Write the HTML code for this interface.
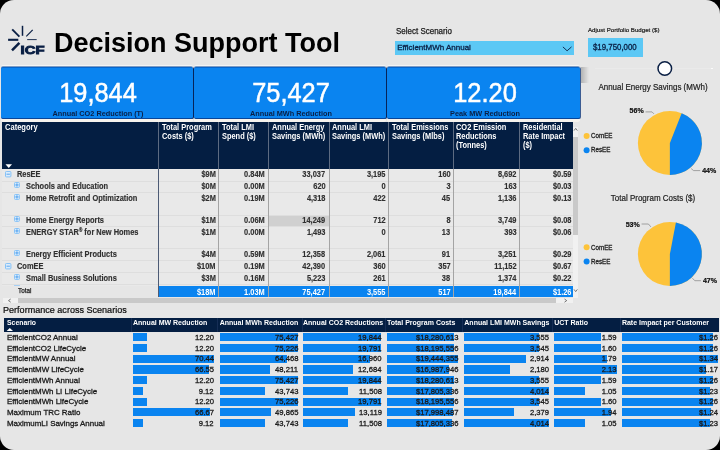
<!DOCTYPE html>
<html><head><meta charset="utf-8"><title>Decision Support Tool</title>
<style>
html,body{margin:0;padding:0;background:#000;}
body{width:720px;height:450px;overflow:hidden;position:relative;font-family:"Liberation Sans",sans-serif;}
#page{position:absolute;left:0;top:0;width:720px;height:450px;background:#e6e6e6;border-radius:14px;overflow:hidden;}
.t{position:absolute;white-space:nowrap;}
.r{position:absolute;}
#c{position:absolute;left:0;top:0;width:720px;height:450px;will-change:transform;}
</style></head><body><div id="page"><div id="c">
<svg class="r" style="left:0;top:0" width="60" height="62" viewBox="0 0 60 62">
<g stroke="#0a1f44" fill="none" stroke-linecap="butt">
<line x1="22.5" y1="25.8" x2="22.5" y2="35.8" stroke-width="1.5"/>
<line x1="12.2" y1="29.4" x2="19.4" y2="36.6" stroke-width="1.9"/>
<line x1="32.7" y1="29.8" x2="26.3" y2="36.3" stroke-width="1.2"/>
<line x1="8.1" y1="39.8" x2="18.3" y2="39.8" stroke-width="2.1"/>
<line x1="27.2" y1="39.6" x2="36.7" y2="39.6" stroke-width="0.9"/>
<line x1="12.0" y1="50.3" x2="19.4" y2="42.9" stroke-width="2.5"/>
</g>
<text x="20.6" y="53.5" font-family="Liberation Sans" font-weight="700" font-size="11.8" fill="#0a1f44" stroke="#0a1f44" stroke-width="0.9" textLength="24.0" lengthAdjust="spacingAndGlyphs">ICF</text>
</svg>
<div class="t" style="left:54.00px;top:25px;font-size:27px;line-height:36px;font-weight:700;color:#000;">Decision Support Tool</div>
<div class="t" style="left:396.00px;top:26px;font-size:8.2px;line-height:11px;font-weight:400;color:#1a1a1a;transform:scaleX(0.975);transform-origin:left center;-webkit-text-stroke:0.25px #1a1a1a;">Select Scenario</div>
<div class="r" style="left:394.70px;top:40.80px;width:179.60px;height:14.20px;background:#5cc8f5;"></div>
<div class="t" style="left:397.20px;top:42px;font-size:8px;line-height:11px;font-weight:400;color:#0a1f44;-webkit-text-stroke:0.3px #0a1f44;">EfficientMWh Annual</div>
<svg class="r" style="left:560px;top:44px" width="14" height="10"><polyline points="2.9,2.9 7.1,6.8 11.5,2.9" fill="none" stroke="#0a1f44" stroke-width="0.9"/></svg>
<div class="t" style="left:587.70px;top:26px;font-size:6px;line-height:8px;font-weight:400;color:#1a1a1a;transform:scaleX(1.02);transform-origin:left center;-webkit-text-stroke:0.2px #1a1a1a;">Adjust Portfolio Budget ($)</div>
<div class="r" style="left:588.30px;top:38.30px;width:55.00px;height:18.60px;background:#5cc8f5;"></div>
<div class="t" style="left:592.70px;top:42px;font-size:8.2px;line-height:11px;font-weight:400;color:#0a1f44;transform:scaleX(0.96);transform-origin:left center;-webkit-text-stroke:0.3px #0a1f44;">$19,750,000</div>
<div class="r" style="left:595.00px;top:68.00px;width:116.00px;height:1.00px;background:#eaeaea;"></div>
<div class="r" style="left:711.00px;top:68.00px;width:2.00px;height:1.00px;background:#fafafa;"></div>
<svg class="r" style="left:655px;top:59px" width="20" height="20"><circle cx="9.8" cy="9.5" r="6.8" fill="#fff" stroke="#0a1f44" stroke-width="1.5"/></svg>
<div class="r" style="left:1px;top:67px;width:192.00px;height:52px;background:#0a84f0;border-radius:2px;box-sizing:border-box;border-top:1px solid #0766cc;border-bottom:1px solid #08469a;box-shadow:0 -1px 0 0 #7d9cc4, 0 -2px 0 0 #f4f4f4, 1px 0 0 0 #06245a, 0 1px 0 0 #f6f3ee, 0 2px 0 0 #f6f3ee, 0 3px 0 0 #f6f3ee"></div>
<div class="r" style="left:194px;top:67px;width:192.00px;height:52px;background:#0a84f0;border-radius:2px;box-sizing:border-box;border-top:1px solid #0766cc;border-bottom:1px solid #08469a;box-shadow:0 -1px 0 0 #7d9cc4, 0 -2px 0 0 #f4f4f4, 1px 0 0 0 #06245a, 0 1px 0 0 #f6f3ee, 0 2px 0 0 #f6f3ee, 0 3px 0 0 #f6f3ee"></div>
<div class="r" style="left:387px;top:67px;width:193.00px;height:52px;background:#0a84f0;border-radius:2px;box-sizing:border-box;border-top:1px solid #0766cc;border-bottom:1px solid #08469a;box-shadow:0 -1px 0 0 #7d9cc4, 0 -2px 0 0 #f4f4f4, 1px 0 0 0 #3b5c92, 0 1px 0 0 #f6f3ee, 0 2px 0 0 #f6f3ee, 0 3px 0 0 #f6f3ee"></div>
<div class="t" style="left:-102.00px;width:400px;text-align:center;top:75px;font-size:27px;line-height:36px;font-weight:400;color:#fff;transform:scaleX(0.94);transform-origin:center center;-webkit-text-stroke:0.5px #fff;">19,844</div>
<div class="t" style="left:-102.00px;width:400px;text-align:center;top:108px;font-size:8px;line-height:11px;font-weight:700;color:#0a1f44;transform:scaleX(0.914);transform-origin:center center;">Annual CO2 Reduction (T)</div>
<div class="t" style="left:91.00px;width:400px;text-align:center;top:75px;font-size:27px;line-height:36px;font-weight:400;color:#fff;transform:scaleX(0.94);transform-origin:center center;-webkit-text-stroke:0.5px #fff;">75,427</div>
<div class="t" style="left:91.00px;width:400px;text-align:center;top:108px;font-size:8px;line-height:11px;font-weight:700;color:#0a1f44;transform:scaleX(0.914);transform-origin:center center;">Annual MWh Reduction</div>
<div class="t" style="left:284.50px;width:400px;text-align:center;top:75px;font-size:27px;line-height:36px;font-weight:400;color:#fff;transform:scaleX(0.94);transform-origin:center center;-webkit-text-stroke:0.5px #fff;">12.20</div>
<div class="t" style="left:284.50px;width:400px;text-align:center;top:108px;font-size:8px;line-height:11px;font-weight:700;color:#0a1f44;transform:scaleX(0.914);transform-origin:center center;">Peak MW Reduction</div>
<div class="r" style="left:581px;top:67px;width:8px;height:16px;background:linear-gradient(to right,rgba(0,0,0,0.22),rgba(0,0,0,0))"></div>
<div class="r" style="left:2.40px;top:122.00px;width:570.20px;height:46.80px;background:#041e42;"></div>
<div class="t" style="left:4.50px;top:122px;font-size:8.2px;line-height:11px;font-weight:700;color:#fff;transform:scaleX(0.92);transform-origin:left center;">Category</div>
<div class="t" style="left:161.70px;top:122px;font-size:8.2px;line-height:11px;font-weight:700;color:#fff;transform:scaleX(0.907);transform-origin:left center;">Total Program</div>
<div class="t" style="left:161.70px;top:131px;font-size:8.2px;line-height:11px;font-weight:700;color:#fff;transform:scaleX(0.907);transform-origin:left center;">Costs ($)</div>
<div class="t" style="left:221.70px;top:122px;font-size:8.2px;line-height:11px;font-weight:700;color:#fff;transform:scaleX(0.907);transform-origin:left center;">Total LMI</div>
<div class="t" style="left:221.70px;top:131px;font-size:8.2px;line-height:11px;font-weight:700;color:#fff;transform:scaleX(0.907);transform-origin:left center;">Spend ($)</div>
<div class="t" style="left:271.70px;top:122px;font-size:8.2px;line-height:11px;font-weight:700;color:#fff;transform:scaleX(0.907);transform-origin:left center;">Annual Energy</div>
<div class="t" style="left:271.70px;top:131px;font-size:8.2px;line-height:11px;font-weight:700;color:#fff;transform:scaleX(0.907);transform-origin:left center;">Savings (MWh)</div>
<div class="t" style="left:331.70px;top:122px;font-size:8.2px;line-height:11px;font-weight:700;color:#fff;transform:scaleX(0.907);transform-origin:left center;">Annual LMI</div>
<div class="t" style="left:331.70px;top:131px;font-size:8.2px;line-height:11px;font-weight:700;color:#fff;transform:scaleX(0.907);transform-origin:left center;">Savings (MWh)</div>
<div class="t" style="left:392.00px;top:122px;font-size:8.2px;line-height:11px;font-weight:700;color:#fff;transform:scaleX(0.907);transform-origin:left center;">Total Emissions</div>
<div class="t" style="left:392.00px;top:131px;font-size:8.2px;line-height:11px;font-weight:700;color:#fff;transform:scaleX(0.907);transform-origin:left center;">Savings (Mlbs)</div>
<div class="t" style="left:456.45px;top:122px;font-size:8.2px;line-height:11px;font-weight:700;color:#fff;transform:scaleX(0.907);transform-origin:left center;">CO2 Emission</div>
<div class="t" style="left:456.45px;top:131px;font-size:8.2px;line-height:11px;font-weight:700;color:#fff;transform:scaleX(0.907);transform-origin:left center;">Reductions</div>
<div class="t" style="left:456.45px;top:140px;font-size:8.2px;line-height:11px;font-weight:700;color:#fff;transform:scaleX(0.907);transform-origin:left center;">(Tonnes)</div>
<div class="t" style="left:523.45px;top:122px;font-size:8.2px;line-height:11px;font-weight:700;color:#fff;transform:scaleX(0.907);transform-origin:left center;">Residential</div>
<div class="t" style="left:523.45px;top:131px;font-size:8.2px;line-height:11px;font-weight:700;color:#fff;transform:scaleX(0.907);transform-origin:left center;">Rate Impact</div>
<div class="t" style="left:523.45px;top:140px;font-size:8.2px;line-height:11px;font-weight:700;color:#fff;transform:scaleX(0.907);transform-origin:left center;">($)</div>
<svg class="r" style="left:5px;top:163px" width="8" height="6"><polygon points="0.5,1.2 7,1.2 3.75,5" fill="#fff"/></svg>
<div class="r" style="left:2.40px;top:168.80px;width:570.20px;height:117.40px;background:#e9e9e9;"></div>
<div class="r" style="left:269.00px;top:215.00px;width:60.00px;height:11.60px;background:#d0d0d0;"></div>
<div class="r" style="left:2.40px;top:181.00px;width:570.20px;height:1.00px;background:#dedede;"></div>
<svg class="r" style="left:5.2px;top:170.50px" width="7" height="7"><rect x="0.5" y="0.5" width="5.40" height="5.40" rx="0.8" fill="#dcecfb" stroke="#86c2f7" stroke-width="1"/><g fill="none" stroke="#3b97ee" stroke-width="0.8"><line x1="1.50" y1="3.20" x2="4.90" y2="3.20"/></g></svg>
<div class="t" style="left:17.00px;top:169px;font-size:8.2px;line-height:11px;font-weight:700;color:#303030;transform:scaleX(0.907);transform-origin:left center;-webkit-text-stroke:0.15px #303030;">ResEE</div>
<div class="t" style="right:504.50px;top:169px;font-size:8.2px;line-height:11px;font-weight:700;color:#303030;transform:scaleX(0.907);transform-origin:right center;-webkit-text-stroke:0.15px #303030;">$9M</div>
<div class="t" style="right:454.80px;top:169px;font-size:8.2px;line-height:11px;font-weight:700;color:#303030;transform:scaleX(0.907);transform-origin:right center;-webkit-text-stroke:0.15px #303030;">0.84M</div>
<div class="t" style="right:394.60px;top:169px;font-size:8.2px;line-height:11px;font-weight:700;color:#303030;transform:scaleX(0.907);transform-origin:right center;-webkit-text-stroke:0.15px #303030;">33,037</div>
<div class="t" style="right:334.40px;top:169px;font-size:8.2px;line-height:11px;font-weight:700;color:#303030;transform:scaleX(0.907);transform-origin:right center;-webkit-text-stroke:0.15px #303030;">3,195</div>
<div class="t" style="right:269.80px;top:169px;font-size:8.2px;line-height:11px;font-weight:700;color:#303030;transform:scaleX(0.907);transform-origin:right center;-webkit-text-stroke:0.15px #303030;">160</div>
<div class="t" style="right:203.60px;top:169px;font-size:8.2px;line-height:11px;font-weight:700;color:#303030;transform:scaleX(0.907);transform-origin:right center;-webkit-text-stroke:0.15px #303030;">8,692</div>
<div class="t" style="right:148.90px;top:169px;font-size:8.2px;line-height:11px;font-weight:700;color:#303030;transform:scaleX(0.907);transform-origin:right center;-webkit-text-stroke:0.15px #303030;">$0.59</div>
<div class="r" style="left:2.40px;top:192.00px;width:570.20px;height:1.00px;background:#dedede;"></div>
<svg class="r" style="left:14.0px;top:182.30px" width="7" height="7"><rect x="0.5" y="0.5" width="4.90" height="4.90" rx="0.8" fill="#dcecfb" stroke="#86c2f7" stroke-width="1"/><g fill="none" stroke="#3b97ee" stroke-width="0.8"><line x1="1.25" y1="2.95" x2="4.65" y2="2.95"/><line x1="2.95" y1="1.25" x2="2.95" y2="4.65"/></g></svg>
<div class="t" style="left:25.70px;top:181px;font-size:8.2px;line-height:11px;font-weight:700;color:#303030;transform:scaleX(0.907);transform-origin:left center;-webkit-text-stroke:0.15px #303030;">Schools and Education</div>
<div class="t" style="right:504.50px;top:181px;font-size:8.2px;line-height:11px;font-weight:700;color:#303030;transform:scaleX(0.907);transform-origin:right center;-webkit-text-stroke:0.15px #303030;">$0M</div>
<div class="t" style="right:454.80px;top:181px;font-size:8.2px;line-height:11px;font-weight:700;color:#303030;transform:scaleX(0.907);transform-origin:right center;-webkit-text-stroke:0.15px #303030;">0.00M</div>
<div class="t" style="right:394.60px;top:181px;font-size:8.2px;line-height:11px;font-weight:700;color:#303030;transform:scaleX(0.907);transform-origin:right center;-webkit-text-stroke:0.15px #303030;">620</div>
<div class="t" style="right:334.40px;top:181px;font-size:8.2px;line-height:11px;font-weight:700;color:#303030;transform:scaleX(0.907);transform-origin:right center;-webkit-text-stroke:0.15px #303030;">0</div>
<div class="t" style="right:269.80px;top:181px;font-size:8.2px;line-height:11px;font-weight:700;color:#303030;transform:scaleX(0.907);transform-origin:right center;-webkit-text-stroke:0.15px #303030;">3</div>
<div class="t" style="right:203.60px;top:181px;font-size:8.2px;line-height:11px;font-weight:700;color:#303030;transform:scaleX(0.907);transform-origin:right center;-webkit-text-stroke:0.15px #303030;">163</div>
<div class="t" style="right:148.90px;top:181px;font-size:8.2px;line-height:11px;font-weight:700;color:#303030;transform:scaleX(0.907);transform-origin:right center;-webkit-text-stroke:0.15px #303030;">$0.03</div>
<div class="r" style="left:2.40px;top:215.00px;width:570.20px;height:1.00px;background:#dedede;"></div>
<svg class="r" style="left:14.0px;top:194.30px" width="7" height="7"><rect x="0.5" y="0.5" width="4.90" height="4.90" rx="0.8" fill="#dcecfb" stroke="#86c2f7" stroke-width="1"/><g fill="none" stroke="#3b97ee" stroke-width="0.8"><line x1="1.25" y1="2.95" x2="4.65" y2="2.95"/><line x1="2.95" y1="1.25" x2="2.95" y2="4.65"/></g></svg>
<div class="t" style="left:25.70px;top:193px;font-size:8.2px;line-height:11px;font-weight:700;color:#303030;transform:scaleX(0.907);transform-origin:left center;-webkit-text-stroke:0.15px #303030;">Home Retrofit and Optimization</div>
<div class="t" style="right:504.50px;top:193px;font-size:8.2px;line-height:11px;font-weight:700;color:#303030;transform:scaleX(0.907);transform-origin:right center;-webkit-text-stroke:0.15px #303030;">$2M</div>
<div class="t" style="right:454.80px;top:193px;font-size:8.2px;line-height:11px;font-weight:700;color:#303030;transform:scaleX(0.907);transform-origin:right center;-webkit-text-stroke:0.15px #303030;">0.19M</div>
<div class="t" style="right:394.60px;top:193px;font-size:8.2px;line-height:11px;font-weight:700;color:#303030;transform:scaleX(0.907);transform-origin:right center;-webkit-text-stroke:0.15px #303030;">4,318</div>
<div class="t" style="right:334.40px;top:193px;font-size:8.2px;line-height:11px;font-weight:700;color:#303030;transform:scaleX(0.907);transform-origin:right center;-webkit-text-stroke:0.15px #303030;">422</div>
<div class="t" style="right:269.80px;top:193px;font-size:8.2px;line-height:11px;font-weight:700;color:#303030;transform:scaleX(0.907);transform-origin:right center;-webkit-text-stroke:0.15px #303030;">45</div>
<div class="t" style="right:203.60px;top:193px;font-size:8.2px;line-height:11px;font-weight:700;color:#303030;transform:scaleX(0.907);transform-origin:right center;-webkit-text-stroke:0.15px #303030;">1,136</div>
<div class="t" style="right:148.90px;top:193px;font-size:8.2px;line-height:11px;font-weight:700;color:#303030;transform:scaleX(0.907);transform-origin:right center;-webkit-text-stroke:0.15px #303030;">$0.13</div>
<div class="r" style="left:2.40px;top:226.00px;width:570.20px;height:1.00px;background:#dedede;"></div>
<svg class="r" style="left:14.0px;top:216.30px" width="7" height="7"><rect x="0.5" y="0.5" width="4.90" height="4.90" rx="0.8" fill="#dcecfb" stroke="#86c2f7" stroke-width="1"/><g fill="none" stroke="#3b97ee" stroke-width="0.8"><line x1="1.25" y1="2.95" x2="4.65" y2="2.95"/><line x1="2.95" y1="1.25" x2="2.95" y2="4.65"/></g></svg>
<div class="t" style="left:25.70px;top:215px;font-size:8.2px;line-height:11px;font-weight:700;color:#303030;transform:scaleX(0.907);transform-origin:left center;-webkit-text-stroke:0.15px #303030;">Home Energy Reports</div>
<div class="t" style="right:504.50px;top:215px;font-size:8.2px;line-height:11px;font-weight:700;color:#303030;transform:scaleX(0.907);transform-origin:right center;-webkit-text-stroke:0.15px #303030;">$1M</div>
<div class="t" style="right:454.80px;top:215px;font-size:8.2px;line-height:11px;font-weight:700;color:#303030;transform:scaleX(0.907);transform-origin:right center;-webkit-text-stroke:0.15px #303030;">0.06M</div>
<div class="t" style="right:394.60px;top:215px;font-size:8.2px;line-height:11px;font-weight:700;color:#303030;transform:scaleX(0.907);transform-origin:right center;-webkit-text-stroke:0.15px #303030;">14,249</div>
<div class="t" style="right:334.40px;top:215px;font-size:8.2px;line-height:11px;font-weight:700;color:#303030;transform:scaleX(0.907);transform-origin:right center;-webkit-text-stroke:0.15px #303030;">712</div>
<div class="t" style="right:269.80px;top:215px;font-size:8.2px;line-height:11px;font-weight:700;color:#303030;transform:scaleX(0.907);transform-origin:right center;-webkit-text-stroke:0.15px #303030;">8</div>
<div class="t" style="right:203.60px;top:215px;font-size:8.2px;line-height:11px;font-weight:700;color:#303030;transform:scaleX(0.907);transform-origin:right center;-webkit-text-stroke:0.15px #303030;">3,749</div>
<div class="t" style="right:148.90px;top:215px;font-size:8.2px;line-height:11px;font-weight:700;color:#303030;transform:scaleX(0.907);transform-origin:right center;-webkit-text-stroke:0.15px #303030;">$0.08</div>
<div class="r" style="left:2.40px;top:248.00px;width:570.20px;height:1.00px;background:#dedede;"></div>
<svg class="r" style="left:14.0px;top:228.30px" width="7" height="7"><rect x="0.5" y="0.5" width="4.90" height="4.90" rx="0.8" fill="#dcecfb" stroke="#86c2f7" stroke-width="1"/><g fill="none" stroke="#3b97ee" stroke-width="0.8"><line x1="1.25" y1="2.95" x2="4.65" y2="2.95"/><line x1="2.95" y1="1.25" x2="2.95" y2="4.65"/></g></svg>
<div class="t" style="left:25.70px;top:227px;font-size:8.2px;line-height:11px;font-weight:700;color:#303030;transform:scaleX(0.907);transform-origin:left center;-webkit-text-stroke:0.15px #303030;">ENERGY STAR<span style="font-size:5px;vertical-align:2.6px;line-height:0">®</span> for New Homes</div>
<div class="t" style="right:504.50px;top:227px;font-size:8.2px;line-height:11px;font-weight:700;color:#303030;transform:scaleX(0.907);transform-origin:right center;-webkit-text-stroke:0.15px #303030;">$1M</div>
<div class="t" style="right:454.80px;top:227px;font-size:8.2px;line-height:11px;font-weight:700;color:#303030;transform:scaleX(0.907);transform-origin:right center;-webkit-text-stroke:0.15px #303030;">0.00M</div>
<div class="t" style="right:394.60px;top:227px;font-size:8.2px;line-height:11px;font-weight:700;color:#303030;transform:scaleX(0.907);transform-origin:right center;-webkit-text-stroke:0.15px #303030;">1,493</div>
<div class="t" style="right:334.40px;top:227px;font-size:8.2px;line-height:11px;font-weight:700;color:#303030;transform:scaleX(0.907);transform-origin:right center;-webkit-text-stroke:0.15px #303030;">0</div>
<div class="t" style="right:269.80px;top:227px;font-size:8.2px;line-height:11px;font-weight:700;color:#303030;transform:scaleX(0.907);transform-origin:right center;-webkit-text-stroke:0.15px #303030;">13</div>
<div class="t" style="right:203.60px;top:227px;font-size:8.2px;line-height:11px;font-weight:700;color:#303030;transform:scaleX(0.907);transform-origin:right center;-webkit-text-stroke:0.15px #303030;">393</div>
<div class="t" style="right:148.90px;top:227px;font-size:8.2px;line-height:11px;font-weight:700;color:#303030;transform:scaleX(0.907);transform-origin:right center;-webkit-text-stroke:0.15px #303030;">$0.06</div>
<div class="r" style="left:2.40px;top:260.00px;width:570.20px;height:1.00px;background:#dedede;"></div>
<svg class="r" style="left:14.0px;top:250.30px" width="7" height="7"><rect x="0.5" y="0.5" width="4.90" height="4.90" rx="0.8" fill="#dcecfb" stroke="#86c2f7" stroke-width="1"/><g fill="none" stroke="#3b97ee" stroke-width="0.8"><line x1="1.25" y1="2.95" x2="4.65" y2="2.95"/><line x1="2.95" y1="1.25" x2="2.95" y2="4.65"/></g></svg>
<div class="t" style="left:25.70px;top:249px;font-size:8.2px;line-height:11px;font-weight:700;color:#303030;transform:scaleX(0.907);transform-origin:left center;-webkit-text-stroke:0.15px #303030;">Energy Efficient Products</div>
<div class="t" style="right:504.50px;top:249px;font-size:8.2px;line-height:11px;font-weight:700;color:#303030;transform:scaleX(0.907);transform-origin:right center;-webkit-text-stroke:0.15px #303030;">$4M</div>
<div class="t" style="right:454.80px;top:249px;font-size:8.2px;line-height:11px;font-weight:700;color:#303030;transform:scaleX(0.907);transform-origin:right center;-webkit-text-stroke:0.15px #303030;">0.59M</div>
<div class="t" style="right:394.60px;top:249px;font-size:8.2px;line-height:11px;font-weight:700;color:#303030;transform:scaleX(0.907);transform-origin:right center;-webkit-text-stroke:0.15px #303030;">12,358</div>
<div class="t" style="right:334.40px;top:249px;font-size:8.2px;line-height:11px;font-weight:700;color:#303030;transform:scaleX(0.907);transform-origin:right center;-webkit-text-stroke:0.15px #303030;">2,061</div>
<div class="t" style="right:269.80px;top:249px;font-size:8.2px;line-height:11px;font-weight:700;color:#303030;transform:scaleX(0.907);transform-origin:right center;-webkit-text-stroke:0.15px #303030;">91</div>
<div class="t" style="right:203.60px;top:249px;font-size:8.2px;line-height:11px;font-weight:700;color:#303030;transform:scaleX(0.907);transform-origin:right center;-webkit-text-stroke:0.15px #303030;">3,251</div>
<div class="t" style="right:148.90px;top:249px;font-size:8.2px;line-height:11px;font-weight:700;color:#303030;transform:scaleX(0.907);transform-origin:right center;-webkit-text-stroke:0.15px #303030;">$0.29</div>
<div class="r" style="left:2.40px;top:272.00px;width:570.20px;height:1.00px;background:#dedede;"></div>
<svg class="r" style="left:5.2px;top:262.50px" width="7" height="7"><rect x="0.5" y="0.5" width="5.40" height="5.40" rx="0.8" fill="#dcecfb" stroke="#86c2f7" stroke-width="1"/><g fill="none" stroke="#3b97ee" stroke-width="0.8"><line x1="1.50" y1="3.20" x2="4.90" y2="3.20"/></g></svg>
<div class="t" style="left:17.00px;top:261px;font-size:8.2px;line-height:11px;font-weight:700;color:#303030;transform:scaleX(0.907);transform-origin:left center;-webkit-text-stroke:0.15px #303030;">ComEE</div>
<div class="t" style="right:504.50px;top:261px;font-size:8.2px;line-height:11px;font-weight:700;color:#303030;transform:scaleX(0.907);transform-origin:right center;-webkit-text-stroke:0.15px #303030;">$10M</div>
<div class="t" style="right:454.80px;top:261px;font-size:8.2px;line-height:11px;font-weight:700;color:#303030;transform:scaleX(0.907);transform-origin:right center;-webkit-text-stroke:0.15px #303030;">0.19M</div>
<div class="t" style="right:394.60px;top:261px;font-size:8.2px;line-height:11px;font-weight:700;color:#303030;transform:scaleX(0.907);transform-origin:right center;-webkit-text-stroke:0.15px #303030;">42,390</div>
<div class="t" style="right:334.40px;top:261px;font-size:8.2px;line-height:11px;font-weight:700;color:#303030;transform:scaleX(0.907);transform-origin:right center;-webkit-text-stroke:0.15px #303030;">360</div>
<div class="t" style="right:269.80px;top:261px;font-size:8.2px;line-height:11px;font-weight:700;color:#303030;transform:scaleX(0.907);transform-origin:right center;-webkit-text-stroke:0.15px #303030;">357</div>
<div class="t" style="right:203.60px;top:261px;font-size:8.2px;line-height:11px;font-weight:700;color:#303030;transform:scaleX(0.907);transform-origin:right center;-webkit-text-stroke:0.15px #303030;">11,152</div>
<div class="t" style="right:148.90px;top:261px;font-size:8.2px;line-height:11px;font-weight:700;color:#303030;transform:scaleX(0.907);transform-origin:right center;-webkit-text-stroke:0.15px #303030;">$0.67</div>
<div class="r" style="left:2.40px;top:284.00px;width:570.20px;height:1.00px;background:#dedede;"></div>
<svg class="r" style="left:14.0px;top:274.30px" width="7" height="7"><rect x="0.5" y="0.5" width="4.90" height="4.90" rx="0.8" fill="#dcecfb" stroke="#86c2f7" stroke-width="1"/><g fill="none" stroke="#3b97ee" stroke-width="0.8"><line x1="1.25" y1="2.95" x2="4.65" y2="2.95"/><line x1="2.95" y1="1.25" x2="2.95" y2="4.65"/></g></svg>
<div class="t" style="left:25.70px;top:273px;font-size:8.2px;line-height:11px;font-weight:700;color:#303030;transform:scaleX(0.907);transform-origin:left center;-webkit-text-stroke:0.15px #303030;">Small Business Solutions</div>
<div class="t" style="right:504.50px;top:273px;font-size:8.2px;line-height:11px;font-weight:700;color:#303030;transform:scaleX(0.907);transform-origin:right center;-webkit-text-stroke:0.15px #303030;">$3M</div>
<div class="t" style="right:454.80px;top:273px;font-size:8.2px;line-height:11px;font-weight:700;color:#303030;transform:scaleX(0.907);transform-origin:right center;-webkit-text-stroke:0.15px #303030;">0.16M</div>
<div class="t" style="right:394.60px;top:273px;font-size:8.2px;line-height:11px;font-weight:700;color:#303030;transform:scaleX(0.907);transform-origin:right center;-webkit-text-stroke:0.15px #303030;">5,223</div>
<div class="t" style="right:334.40px;top:273px;font-size:8.2px;line-height:11px;font-weight:700;color:#303030;transform:scaleX(0.907);transform-origin:right center;-webkit-text-stroke:0.15px #303030;">261</div>
<div class="t" style="right:269.80px;top:273px;font-size:8.2px;line-height:11px;font-weight:700;color:#303030;transform:scaleX(0.907);transform-origin:right center;-webkit-text-stroke:0.15px #303030;">38</div>
<div class="t" style="right:203.60px;top:273px;font-size:8.2px;line-height:11px;font-weight:700;color:#303030;transform:scaleX(0.907);transform-origin:right center;-webkit-text-stroke:0.15px #303030;">1,374</div>
<div class="t" style="right:148.90px;top:273px;font-size:8.2px;line-height:11px;font-weight:700;color:#303030;transform:scaleX(0.907);transform-origin:right center;-webkit-text-stroke:0.15px #303030;">$0.22</div>
<div class="r" style="left:14.2px;top:285px;width:5.6px;height:1px;background:#a6cff5"></div>
<div class="r" style="left:158.25px;top:286.20px;width:414.35px;height:11.00px;background:#0a84f0;"></div>
<div class="t" style="left:17.60px;top:286px;font-size:6.5px;line-height:9px;font-weight:400;color:#222;transform:scaleX(0.98);transform-origin:left center;-webkit-text-stroke:0.25px #222;">Total</div>
<div class="t" style="right:504.50px;top:287px;font-size:8.2px;line-height:11px;font-weight:700;color:#fff;transform:scaleX(0.907);transform-origin:right center;">$18M</div>
<div class="t" style="right:454.80px;top:287px;font-size:8.2px;line-height:11px;font-weight:700;color:#fff;transform:scaleX(0.907);transform-origin:right center;">1.03M</div>
<div class="t" style="right:394.60px;top:287px;font-size:8.2px;line-height:11px;font-weight:700;color:#fff;transform:scaleX(0.907);transform-origin:right center;">75,427</div>
<div class="t" style="right:334.40px;top:287px;font-size:8.2px;line-height:11px;font-weight:700;color:#fff;transform:scaleX(0.907);transform-origin:right center;">3,555</div>
<div class="t" style="right:269.80px;top:287px;font-size:8.2px;line-height:11px;font-weight:700;color:#fff;transform:scaleX(0.907);transform-origin:right center;">517</div>
<div class="t" style="right:203.60px;top:287px;font-size:8.2px;line-height:11px;font-weight:700;color:#fff;transform:scaleX(0.907);transform-origin:right center;">19,844</div>
<div class="t" style="right:148.90px;top:287px;font-size:8.2px;line-height:11px;font-weight:700;color:#fff;transform:scaleX(0.907);transform-origin:right center;">$1.26</div>
<div class="r" style="left:158.00px;top:122.00px;width:1.00px;height:46.80px;background:#5d6b82;"></div>
<div class="r" style="left:158.00px;top:168.80px;width:1.00px;height:128.40px;background:#4d5b75;"></div>
<div class="r" style="left:218.00px;top:122.00px;width:1.00px;height:46.80px;background:#5d6b82;"></div>
<div class="r" style="left:218.00px;top:168.80px;width:1.00px;height:128.40px;background:#a4a4a4;"></div>
<div class="r" style="left:268.00px;top:122.00px;width:1.00px;height:46.80px;background:#5d6b82;"></div>
<div class="r" style="left:268.00px;top:168.80px;width:1.00px;height:128.40px;background:#a4a4a4;"></div>
<div class="r" style="left:328.80px;top:122.00px;width:1.00px;height:46.80px;background:#5d6b82;"></div>
<div class="r" style="left:328.80px;top:168.80px;width:1.00px;height:128.40px;background:#a4a4a4;"></div>
<div class="r" style="left:388.00px;top:122.00px;width:1.00px;height:46.80px;background:#5d6b82;"></div>
<div class="r" style="left:388.00px;top:168.80px;width:1.00px;height:128.40px;background:#a4a4a4;"></div>
<div class="r" style="left:453.10px;top:122.00px;width:1.00px;height:46.80px;background:#5d6b82;"></div>
<div class="r" style="left:453.10px;top:168.80px;width:1.00px;height:128.40px;background:#a4a4a4;"></div>
<div class="r" style="left:519.10px;top:122.00px;width:1.00px;height:46.80px;background:#5d6b82;"></div>
<div class="r" style="left:519.10px;top:168.80px;width:1.00px;height:128.40px;background:#a4a4a4;"></div>
<div class="r" style="left:572.60px;top:126.50px;width:5.40px;height:171.00px;background:#f1f1f1;"></div>
<div class="r" style="left:572.60px;top:137.00px;width:5.40px;height:98.00px;background:#c9c9c9;"></div>
<svg class="r" style="left:572.6px;top:127.3px" width="6" height="5"><polyline points="1,3.6 2.7,1.4 4.4,3.6" fill="none" stroke="#444" stroke-width="0.7"/></svg>
<svg class="r" style="left:572.6px;top:288px" width="6" height="5"><polyline points="1,1.4 2.7,3.6 4.4,1.4" fill="none" stroke="#444" stroke-width="0.7"/></svg>
<div class="r" style="left:2.50px;top:298.30px;width:570.10px;height:4.50px;background:#f1f1f1;"></div>
<div class="r" style="left:17.50px;top:298.30px;width:538.50px;height:4.50px;background:#c9c9c9;"></div>
<svg class="r" style="left:7px;top:298px" width="6" height="6"><polyline points="3.7,1 1.5,2.6 3.7,4.2" fill="none" stroke="#444" stroke-width="0.7"/></svg>
<svg class="r" style="left:562.5px;top:298px" width="6" height="6"><polyline points="1.5,1 3.7,2.6 1.5,4.2" fill="none" stroke="#444" stroke-width="0.7"/></svg>
<svg class="r" style="left:560px;top:82.7px" width="160" height="120" viewBox="560 82.7 160 120"><circle cx="669.9" cy="142.7" r="32" fill="#fdc33a"/><path d="M669.9,142.7 L681.68,112.95 A32,32 0 0 1 669.9,174.7 Z" fill="#0a84f0"/><polyline points="645.5,111.6 652,111.6 654,113.6" fill="none" stroke="#8e8e8e" stroke-width="0.8"/><polyline points="691.2,168.3 693.6,170.3 700.2,170.3" fill="none" stroke="#8e8e8e" stroke-width="0.8"/><circle cx="586.6" cy="135.6" r="3.0" fill="#fdc33a"/><circle cx="586.6" cy="150.0" r="3.0" fill="#0a84f0"/></svg>
<div class="t" style="left:452.80px;width:400px;text-align:center;top:82px;font-size:8.2px;line-height:11px;font-weight:400;color:#222;transform:scaleX(0.975);transform-origin:center center;-webkit-text-stroke:0.2px #222;">Annual Energy Savings (MWh)</div>
<div class="t" style="left:629.60px;top:106px;font-size:7px;line-height:10px;font-weight:700;color:#111;-webkit-text-stroke:0.2px #111;">56%</div>
<div class="t" style="left:702.20px;top:166px;font-size:7px;line-height:10px;font-weight:700;color:#111;-webkit-text-stroke:0.2px #111;">44%</div>
<div class="t" style="left:591.00px;top:131px;font-size:7px;line-height:10px;font-weight:400;color:#222;transform:scaleX(0.89);transform-origin:left center;-webkit-text-stroke:0.3px #222;">ComEE</div>
<div class="t" style="left:591.00px;top:145px;font-size:7px;line-height:10px;font-weight:400;color:#222;transform:scaleX(0.89);transform-origin:left center;-webkit-text-stroke:0.3px #222;">ResEE</div>
<svg class="r" style="left:560px;top:194.1px" width="160" height="120" viewBox="560 194.1 160 120"><circle cx="669.9" cy="254.1" r="32" fill="#fdc33a"/><path d="M669.9,254.1 L675.90,222.67 A32,32 0 0 1 669.9,286.1 Z" fill="#0a84f0"/><polyline points="641.6,224.1 648.4,224.1 650.9,227" fill="none" stroke="#8e8e8e" stroke-width="0.8"/><polyline points="692.4,278.3 694.8,280.8 700.9,280.8" fill="none" stroke="#8e8e8e" stroke-width="0.8"/><circle cx="586.6" cy="247.3" r="3.0" fill="#fdc33a"/><circle cx="586.6" cy="261.7" r="3.0" fill="#0a84f0"/></svg>
<div class="t" style="left:452.60px;width:400px;text-align:center;top:193px;font-size:8.2px;line-height:11px;font-weight:400;color:#222;transform:scaleX(0.975);transform-origin:center center;-webkit-text-stroke:0.2px #222;">Total Program Costs ($)</div>
<div class="t" style="left:625.70px;top:220px;font-size:7px;line-height:10px;font-weight:700;color:#111;-webkit-text-stroke:0.2px #111;">53%</div>
<div class="t" style="left:702.90px;top:276px;font-size:7px;line-height:10px;font-weight:700;color:#111;-webkit-text-stroke:0.2px #111;">47%</div>
<div class="t" style="left:591.00px;top:243px;font-size:7px;line-height:10px;font-weight:400;color:#222;transform:scaleX(0.89);transform-origin:left center;-webkit-text-stroke:0.3px #222;">ComEE</div>
<div class="t" style="left:591.00px;top:257px;font-size:7px;line-height:10px;font-weight:400;color:#222;transform:scaleX(0.89);transform-origin:left center;-webkit-text-stroke:0.3px #222;">ResEE</div>
<div class="t" style="left:3.20px;top:304px;font-size:9.2px;line-height:12px;font-weight:400;color:#0a0a0a;transform:scaleX(0.985);transform-origin:left center;-webkit-text-stroke:0.2px #0a0a0a;">Performance across Scenarios</div>
<div class="r" style="left:3.50px;top:318.20px;width:715.80px;height:13.50px;background:#041e42;"></div>
<div class="r" style="left:130.50px;top:318.20px;width:1.00px;height:13.50px;background:#152d55;"></div>
<div class="r" style="left:216.50px;top:318.20px;width:1.00px;height:13.50px;background:#152d55;"></div>
<div class="r" style="left:301.50px;top:318.20px;width:1.00px;height:13.50px;background:#152d55;"></div>
<div class="r" style="left:385.00px;top:318.20px;width:1.00px;height:13.50px;background:#152d55;"></div>
<div class="r" style="left:461.50px;top:318.20px;width:1.00px;height:13.50px;background:#152d55;"></div>
<div class="r" style="left:551.50px;top:318.20px;width:1.00px;height:13.50px;background:#152d55;"></div>
<div class="r" style="left:619.50px;top:318.20px;width:1.00px;height:13.50px;background:#152d55;"></div>
<div class="t" style="left:6.60px;top:318px;font-size:7px;line-height:10px;font-weight:700;color:#fff;transform:scaleX(0.98);transform-origin:left center;">Scenario</div>
<svg class="r" style="left:6px;top:327px" width="8" height="5"><polygon points="0.6,3.9 7,3.9 3.8,0.9" fill="#fff"/></svg>
<div class="t" style="left:6.75px;top:332px;font-size:8px;line-height:11px;font-weight:400;color:#1a1a1a;transform:scaleX(0.99);transform-origin:left center;-webkit-text-stroke:0.3px #1a1a1a;">EfficientCO2 Annual</div>
<div class="t" style="left:6.75px;top:343px;font-size:8px;line-height:11px;font-weight:400;color:#1a1a1a;transform:scaleX(0.99);transform-origin:left center;-webkit-text-stroke:0.3px #1a1a1a;">EfficientCO2 LifeCycle</div>
<div class="t" style="left:6.75px;top:353px;font-size:8px;line-height:11px;font-weight:400;color:#1a1a1a;transform:scaleX(0.99);transform-origin:left center;-webkit-text-stroke:0.3px #1a1a1a;">EfficientMW Annual</div>
<div class="t" style="left:6.75px;top:364px;font-size:8px;line-height:11px;font-weight:400;color:#1a1a1a;transform:scaleX(0.99);transform-origin:left center;-webkit-text-stroke:0.3px #1a1a1a;">EfficientMW LifeCycle</div>
<div class="t" style="left:6.75px;top:375px;font-size:8px;line-height:11px;font-weight:400;color:#1a1a1a;transform:scaleX(0.99);transform-origin:left center;-webkit-text-stroke:0.3px #1a1a1a;">EfficientMWh Annual</div>
<div class="t" style="left:6.75px;top:386px;font-size:8px;line-height:11px;font-weight:400;color:#1a1a1a;transform:scaleX(0.99);transform-origin:left center;-webkit-text-stroke:0.3px #1a1a1a;">EfficientMWh LI LifeCycle</div>
<div class="t" style="left:6.75px;top:396px;font-size:8px;line-height:11px;font-weight:400;color:#1a1a1a;transform:scaleX(0.99);transform-origin:left center;-webkit-text-stroke:0.3px #1a1a1a;">EfficientMWh LifeCycle</div>
<div class="t" style="left:6.75px;top:407px;font-size:8px;line-height:11px;font-weight:400;color:#1a1a1a;transform:scaleX(0.99);transform-origin:left center;-webkit-text-stroke:0.3px #1a1a1a;">Maximum TRC Ratio</div>
<div class="t" style="left:6.75px;top:418px;font-size:8px;line-height:11px;font-weight:400;color:#1a1a1a;transform:scaleX(0.99);transform-origin:left center;-webkit-text-stroke:0.3px #1a1a1a;">MaximumLI Savings Annual</div>
<div class="t" style="left:133.00px;top:318px;font-size:7px;line-height:10px;font-weight:700;color:#fff;">Annual MW Reduction</div>
<div class="r" style="left:132.80px;top:333.10px;width:14.05px;height:8.20px;background:#0a84f0;"></div>
<div class="t" style="right:506.10px;top:332px;font-size:8px;line-height:11px;font-weight:400;color:#1a1a1a;transform:scaleX(0.955);transform-origin:right center;-webkit-text-stroke:0.3px #1a1a1a;">12.20</div>
<div class="r" style="left:132.80px;top:343.84px;width:14.05px;height:8.20px;background:#0a84f0;"></div>
<div class="t" style="right:506.10px;top:343px;font-size:8px;line-height:11px;font-weight:400;color:#1a1a1a;transform:scaleX(0.955);transform-origin:right center;-webkit-text-stroke:0.3px #1a1a1a;">12.20</div>
<div class="r" style="left:132.80px;top:354.58px;width:81.10px;height:8.20px;background:#0a84f0;"></div>
<div class="t" style="right:506.10px;top:353px;font-size:8px;line-height:11px;font-weight:400;color:#1a1a1a;transform:scaleX(0.955);transform-origin:right center;-webkit-text-stroke:0.3px #1a1a1a;">70.44</div>
<div class="r" style="left:132.80px;top:365.32px;width:76.62px;height:8.20px;background:#0a84f0;"></div>
<div class="t" style="right:506.10px;top:364px;font-size:8px;line-height:11px;font-weight:400;color:#1a1a1a;transform:scaleX(0.955);transform-origin:right center;-webkit-text-stroke:0.3px #1a1a1a;">66.55</div>
<div class="r" style="left:132.80px;top:376.06px;width:14.05px;height:8.20px;background:#0a84f0;"></div>
<div class="t" style="right:506.10px;top:375px;font-size:8px;line-height:11px;font-weight:400;color:#1a1a1a;transform:scaleX(0.955);transform-origin:right center;-webkit-text-stroke:0.3px #1a1a1a;">12.20</div>
<div class="r" style="left:132.80px;top:386.80px;width:10.50px;height:8.20px;background:#0a84f0;"></div>
<div class="t" style="right:506.10px;top:386px;font-size:8px;line-height:11px;font-weight:400;color:#1a1a1a;transform:scaleX(0.955);transform-origin:right center;-webkit-text-stroke:0.3px #1a1a1a;">9.12</div>
<div class="r" style="left:132.80px;top:397.54px;width:14.05px;height:8.20px;background:#0a84f0;"></div>
<div class="t" style="right:506.10px;top:396px;font-size:8px;line-height:11px;font-weight:400;color:#1a1a1a;transform:scaleX(0.955);transform-origin:right center;-webkit-text-stroke:0.3px #1a1a1a;">12.20</div>
<div class="r" style="left:132.80px;top:408.28px;width:76.76px;height:8.20px;background:#0a84f0;"></div>
<div class="t" style="right:506.10px;top:407px;font-size:8px;line-height:11px;font-weight:400;color:#1a1a1a;transform:scaleX(0.955);transform-origin:right center;-webkit-text-stroke:0.3px #1a1a1a;">66.67</div>
<div class="r" style="left:132.80px;top:419.02px;width:10.50px;height:8.20px;background:#0a84f0;"></div>
<div class="t" style="right:506.10px;top:418px;font-size:8px;line-height:11px;font-weight:400;color:#1a1a1a;transform:scaleX(0.955);transform-origin:right center;-webkit-text-stroke:0.3px #1a1a1a;">9.12</div>
<div class="t" style="left:219.70px;top:318px;font-size:7px;line-height:10px;font-weight:700;color:#fff;">Annual MWh Reduction</div>
<div class="r" style="left:219.50px;top:333.10px;width:78.60px;height:8.20px;background:#0a84f0;"></div>
<div class="t" style="right:421.90px;top:332px;font-size:8px;line-height:11px;font-weight:400;color:#1a1a1a;transform:scaleX(0.955);transform-origin:right center;-webkit-text-stroke:0.3px #1a1a1a;">75,427</div>
<div class="r" style="left:219.50px;top:343.84px;width:78.39px;height:8.20px;background:#0a84f0;"></div>
<div class="t" style="right:421.90px;top:343px;font-size:8px;line-height:11px;font-weight:400;color:#1a1a1a;transform:scaleX(0.955);transform-origin:right center;-webkit-text-stroke:0.3px #1a1a1a;">75,226</div>
<div class="r" style="left:219.50px;top:354.58px;width:67.18px;height:8.20px;background:#0a84f0;"></div>
<div class="t" style="right:421.90px;top:353px;font-size:8px;line-height:11px;font-weight:400;color:#1a1a1a;transform:scaleX(0.955);transform-origin:right center;-webkit-text-stroke:0.3px #1a1a1a;">64,468</div>
<div class="r" style="left:219.50px;top:365.32px;width:50.24px;height:8.20px;background:#0a84f0;"></div>
<div class="t" style="right:421.90px;top:364px;font-size:8px;line-height:11px;font-weight:400;color:#1a1a1a;transform:scaleX(0.955);transform-origin:right center;-webkit-text-stroke:0.3px #1a1a1a;">48,211</div>
<div class="r" style="left:219.50px;top:376.06px;width:78.60px;height:8.20px;background:#0a84f0;"></div>
<div class="t" style="right:421.90px;top:375px;font-size:8px;line-height:11px;font-weight:400;color:#1a1a1a;transform:scaleX(0.955);transform-origin:right center;-webkit-text-stroke:0.3px #1a1a1a;">75,427</div>
<div class="r" style="left:219.50px;top:386.80px;width:45.58px;height:8.20px;background:#0a84f0;"></div>
<div class="t" style="right:421.90px;top:386px;font-size:8px;line-height:11px;font-weight:400;color:#1a1a1a;transform:scaleX(0.955);transform-origin:right center;-webkit-text-stroke:0.3px #1a1a1a;">43,743</div>
<div class="r" style="left:219.50px;top:397.54px;width:78.39px;height:8.20px;background:#0a84f0;"></div>
<div class="t" style="right:421.90px;top:396px;font-size:8px;line-height:11px;font-weight:400;color:#1a1a1a;transform:scaleX(0.955);transform-origin:right center;-webkit-text-stroke:0.3px #1a1a1a;">75,226</div>
<div class="r" style="left:219.50px;top:408.28px;width:51.96px;height:8.20px;background:#0a84f0;"></div>
<div class="t" style="right:421.90px;top:407px;font-size:8px;line-height:11px;font-weight:400;color:#1a1a1a;transform:scaleX(0.955);transform-origin:right center;-webkit-text-stroke:0.3px #1a1a1a;">49,865</div>
<div class="r" style="left:219.50px;top:419.02px;width:45.58px;height:8.20px;background:#0a84f0;"></div>
<div class="t" style="right:421.90px;top:418px;font-size:8px;line-height:11px;font-weight:400;color:#1a1a1a;transform:scaleX(0.955);transform-origin:right center;-webkit-text-stroke:0.3px #1a1a1a;">43,743</div>
<div class="t" style="left:303.00px;top:318px;font-size:7px;line-height:10px;font-weight:700;color:#fff;">Annual CO2 Reductions</div>
<div class="r" style="left:302.80px;top:333.10px;width:78.70px;height:8.20px;background:#0a84f0;"></div>
<div class="t" style="right:338.50px;top:332px;font-size:8px;line-height:11px;font-weight:400;color:#1a1a1a;transform:scaleX(0.955);transform-origin:right center;-webkit-text-stroke:0.3px #1a1a1a;">19,844</div>
<div class="r" style="left:302.80px;top:343.84px;width:78.49px;height:8.20px;background:#0a84f0;"></div>
<div class="t" style="right:338.50px;top:343px;font-size:8px;line-height:11px;font-weight:400;color:#1a1a1a;transform:scaleX(0.955);transform-origin:right center;-webkit-text-stroke:0.3px #1a1a1a;">19,791</div>
<div class="r" style="left:302.80px;top:354.58px;width:67.26px;height:8.20px;background:#0a84f0;"></div>
<div class="t" style="right:338.50px;top:353px;font-size:8px;line-height:11px;font-weight:400;color:#1a1a1a;transform:scaleX(0.955);transform-origin:right center;-webkit-text-stroke:0.3px #1a1a1a;">16,960</div>
<div class="r" style="left:302.80px;top:365.32px;width:50.30px;height:8.20px;background:#0a84f0;"></div>
<div class="t" style="right:338.50px;top:364px;font-size:8px;line-height:11px;font-weight:400;color:#1a1a1a;transform:scaleX(0.955);transform-origin:right center;-webkit-text-stroke:0.3px #1a1a1a;">12,684</div>
<div class="r" style="left:302.80px;top:376.06px;width:78.70px;height:8.20px;background:#0a84f0;"></div>
<div class="t" style="right:338.50px;top:375px;font-size:8px;line-height:11px;font-weight:400;color:#1a1a1a;transform:scaleX(0.955);transform-origin:right center;-webkit-text-stroke:0.3px #1a1a1a;">19,844</div>
<div class="r" style="left:302.80px;top:386.80px;width:45.64px;height:8.20px;background:#0a84f0;"></div>
<div class="t" style="right:338.50px;top:386px;font-size:8px;line-height:11px;font-weight:400;color:#1a1a1a;transform:scaleX(0.955);transform-origin:right center;-webkit-text-stroke:0.3px #1a1a1a;">11,508</div>
<div class="r" style="left:302.80px;top:397.54px;width:78.49px;height:8.20px;background:#0a84f0;"></div>
<div class="t" style="right:338.50px;top:396px;font-size:8px;line-height:11px;font-weight:400;color:#1a1a1a;transform:scaleX(0.955);transform-origin:right center;-webkit-text-stroke:0.3px #1a1a1a;">19,791</div>
<div class="r" style="left:302.80px;top:408.28px;width:52.03px;height:8.20px;background:#0a84f0;"></div>
<div class="t" style="right:338.50px;top:407px;font-size:8px;line-height:11px;font-weight:400;color:#1a1a1a;transform:scaleX(0.955);transform-origin:right center;-webkit-text-stroke:0.3px #1a1a1a;">13,119</div>
<div class="r" style="left:302.80px;top:419.02px;width:45.64px;height:8.20px;background:#0a84f0;"></div>
<div class="t" style="right:338.50px;top:418px;font-size:8px;line-height:11px;font-weight:400;color:#1a1a1a;transform:scaleX(0.955);transform-origin:right center;-webkit-text-stroke:0.3px #1a1a1a;">11,508</div>
<div class="t" style="left:387.00px;top:318px;font-size:7px;line-height:10px;font-weight:700;color:#fff;">Total Program Costs</div>
<div class="r" style="left:386.80px;top:333.10px;width:67.41px;height:8.20px;background:#0a84f0;"></div>
<div class="t" style="right:261.50px;top:332px;font-size:8px;line-height:11px;font-weight:400;color:#1a1a1a;transform:scaleX(0.955);transform-origin:right center;-webkit-text-stroke:0.3px #1a1a1a;">$18,280,613</div>
<div class="r" style="left:386.80px;top:343.84px;width:67.10px;height:8.20px;background:#0a84f0;"></div>
<div class="t" style="right:261.50px;top:343px;font-size:8px;line-height:11px;font-weight:400;color:#1a1a1a;transform:scaleX(0.955);transform-origin:right center;-webkit-text-stroke:0.3px #1a1a1a;">$18,195,556</div>
<div class="r" style="left:386.80px;top:354.58px;width:71.70px;height:8.20px;background:#0a84f0;"></div>
<div class="t" style="right:261.50px;top:353px;font-size:8px;line-height:11px;font-weight:400;color:#1a1a1a;transform:scaleX(0.955);transform-origin:right center;-webkit-text-stroke:0.3px #1a1a1a;">$19,444,355</div>
<div class="r" style="left:386.80px;top:365.32px;width:62.64px;height:8.20px;background:#0a84f0;"></div>
<div class="t" style="right:261.50px;top:364px;font-size:8px;line-height:11px;font-weight:400;color:#1a1a1a;transform:scaleX(0.955);transform-origin:right center;-webkit-text-stroke:0.3px #1a1a1a;">$16,987,946</div>
<div class="r" style="left:386.80px;top:376.06px;width:67.41px;height:8.20px;background:#0a84f0;"></div>
<div class="t" style="right:261.50px;top:375px;font-size:8px;line-height:11px;font-weight:400;color:#1a1a1a;transform:scaleX(0.955);transform-origin:right center;-webkit-text-stroke:0.3px #1a1a1a;">$18,280,613</div>
<div class="r" style="left:386.80px;top:386.80px;width:65.66px;height:8.20px;background:#0a84f0;"></div>
<div class="t" style="right:261.50px;top:386px;font-size:8px;line-height:11px;font-weight:400;color:#1a1a1a;transform:scaleX(0.955);transform-origin:right center;-webkit-text-stroke:0.3px #1a1a1a;">$17,805,336</div>
<div class="r" style="left:386.80px;top:397.54px;width:67.10px;height:8.20px;background:#0a84f0;"></div>
<div class="t" style="right:261.50px;top:396px;font-size:8px;line-height:11px;font-weight:400;color:#1a1a1a;transform:scaleX(0.955);transform-origin:right center;-webkit-text-stroke:0.3px #1a1a1a;">$18,195,556</div>
<div class="r" style="left:386.80px;top:408.28px;width:66.37px;height:8.20px;background:#0a84f0;"></div>
<div class="t" style="right:261.50px;top:407px;font-size:8px;line-height:11px;font-weight:400;color:#1a1a1a;transform:scaleX(0.955);transform-origin:right center;-webkit-text-stroke:0.3px #1a1a1a;">$17,998,487</div>
<div class="r" style="left:386.80px;top:419.02px;width:65.66px;height:8.20px;background:#0a84f0;"></div>
<div class="t" style="right:261.50px;top:418px;font-size:8px;line-height:11px;font-weight:400;color:#1a1a1a;transform:scaleX(0.955);transform-origin:right center;-webkit-text-stroke:0.3px #1a1a1a;">$17,805,336</div>
<div class="t" style="left:464.30px;top:318px;font-size:7px;line-height:10px;font-weight:700;color:#fff;">Annual LMI MWh Savings</div>
<div class="r" style="left:464.10px;top:333.10px;width:74.93px;height:8.20px;background:#0a84f0;"></div>
<div class="t" style="right:171.30px;top:332px;font-size:8px;line-height:11px;font-weight:400;color:#1a1a1a;transform:scaleX(0.955);transform-origin:right center;-webkit-text-stroke:0.3px #1a1a1a;">3,555</div>
<div class="r" style="left:464.10px;top:343.84px;width:74.72px;height:8.20px;background:#0a84f0;"></div>
<div class="t" style="right:171.30px;top:343px;font-size:8px;line-height:11px;font-weight:400;color:#1a1a1a;transform:scaleX(0.955);transform-origin:right center;-webkit-text-stroke:0.3px #1a1a1a;">3,545</div>
<div class="r" style="left:464.10px;top:354.58px;width:61.42px;height:8.20px;background:#0a84f0;"></div>
<div class="t" style="right:171.30px;top:353px;font-size:8px;line-height:11px;font-weight:400;color:#1a1a1a;transform:scaleX(0.955);transform-origin:right center;-webkit-text-stroke:0.3px #1a1a1a;">2,914</div>
<div class="r" style="left:464.10px;top:365.32px;width:45.95px;height:8.20px;background:#0a84f0;"></div>
<div class="t" style="right:171.30px;top:364px;font-size:8px;line-height:11px;font-weight:400;color:#1a1a1a;transform:scaleX(0.955);transform-origin:right center;-webkit-text-stroke:0.3px #1a1a1a;">2,180</div>
<div class="r" style="left:464.10px;top:376.06px;width:74.93px;height:8.20px;background:#0a84f0;"></div>
<div class="t" style="right:171.30px;top:375px;font-size:8px;line-height:11px;font-weight:400;color:#1a1a1a;transform:scaleX(0.955);transform-origin:right center;-webkit-text-stroke:0.3px #1a1a1a;">3,555</div>
<div class="r" style="left:464.10px;top:386.80px;width:84.60px;height:8.20px;background:#0a84f0;"></div>
<div class="t" style="right:171.30px;top:386px;font-size:8px;line-height:11px;font-weight:400;color:#1a1a1a;transform:scaleX(0.955);transform-origin:right center;-webkit-text-stroke:0.3px #1a1a1a;">4,014</div>
<div class="r" style="left:464.10px;top:397.54px;width:74.72px;height:8.20px;background:#0a84f0;"></div>
<div class="t" style="right:171.30px;top:396px;font-size:8px;line-height:11px;font-weight:400;color:#1a1a1a;transform:scaleX(0.955);transform-origin:right center;-webkit-text-stroke:0.3px #1a1a1a;">3,545</div>
<div class="r" style="left:464.10px;top:408.28px;width:50.14px;height:8.20px;background:#0a84f0;"></div>
<div class="t" style="right:171.30px;top:407px;font-size:8px;line-height:11px;font-weight:400;color:#1a1a1a;transform:scaleX(0.955);transform-origin:right center;-webkit-text-stroke:0.3px #1a1a1a;">2,379</div>
<div class="r" style="left:464.10px;top:419.02px;width:84.60px;height:8.20px;background:#0a84f0;"></div>
<div class="t" style="right:171.30px;top:418px;font-size:8px;line-height:11px;font-weight:400;color:#1a1a1a;transform:scaleX(0.955);transform-origin:right center;-webkit-text-stroke:0.3px #1a1a1a;">4,014</div>
<div class="t" style="left:554.20px;top:318px;font-size:7px;line-height:10px;font-weight:700;color:#fff;">UCT Ratio</div>
<div class="r" style="left:554.00px;top:333.10px;width:46.80px;height:8.20px;background:#0a84f0;"></div>
<div class="t" style="right:103.30px;top:332px;font-size:8px;line-height:11px;font-weight:400;color:#1a1a1a;transform:scaleX(0.955);transform-origin:right center;-webkit-text-stroke:0.3px #1a1a1a;">1.59</div>
<div class="r" style="left:554.00px;top:343.84px;width:47.10px;height:8.20px;background:#0a84f0;"></div>
<div class="t" style="right:103.30px;top:343px;font-size:8px;line-height:11px;font-weight:400;color:#1a1a1a;transform:scaleX(0.955);transform-origin:right center;-webkit-text-stroke:0.3px #1a1a1a;">1.60</div>
<div class="r" style="left:554.00px;top:354.58px;width:52.69px;height:8.20px;background:#0a84f0;"></div>
<div class="t" style="right:103.30px;top:353px;font-size:8px;line-height:11px;font-weight:400;color:#1a1a1a;transform:scaleX(0.955);transform-origin:right center;-webkit-text-stroke:0.3px #1a1a1a;">1.79</div>
<div class="r" style="left:554.00px;top:365.32px;width:62.70px;height:8.20px;background:#0a84f0;"></div>
<div class="t" style="right:103.30px;top:364px;font-size:8px;line-height:11px;font-weight:400;color:#1a1a1a;transform:scaleX(0.955);transform-origin:right center;-webkit-text-stroke:0.3px #1a1a1a;">2.13</div>
<div class="r" style="left:554.00px;top:376.06px;width:46.80px;height:8.20px;background:#0a84f0;"></div>
<div class="t" style="right:103.30px;top:375px;font-size:8px;line-height:11px;font-weight:400;color:#1a1a1a;transform:scaleX(0.955);transform-origin:right center;-webkit-text-stroke:0.3px #1a1a1a;">1.59</div>
<div class="r" style="left:554.00px;top:386.80px;width:30.91px;height:8.20px;background:#0a84f0;"></div>
<div class="t" style="right:103.30px;top:386px;font-size:8px;line-height:11px;font-weight:400;color:#1a1a1a;transform:scaleX(0.955);transform-origin:right center;-webkit-text-stroke:0.3px #1a1a1a;">1.05</div>
<div class="r" style="left:554.00px;top:397.54px;width:47.10px;height:8.20px;background:#0a84f0;"></div>
<div class="t" style="right:103.30px;top:396px;font-size:8px;line-height:11px;font-weight:400;color:#1a1a1a;transform:scaleX(0.955);transform-origin:right center;-webkit-text-stroke:0.3px #1a1a1a;">1.60</div>
<div class="r" style="left:554.00px;top:408.28px;width:57.11px;height:8.20px;background:#0a84f0;"></div>
<div class="t" style="right:103.30px;top:407px;font-size:8px;line-height:11px;font-weight:400;color:#1a1a1a;transform:scaleX(0.955);transform-origin:right center;-webkit-text-stroke:0.3px #1a1a1a;">1.94</div>
<div class="r" style="left:554.00px;top:419.02px;width:30.91px;height:8.20px;background:#0a84f0;"></div>
<div class="t" style="right:103.30px;top:418px;font-size:8px;line-height:11px;font-weight:400;color:#1a1a1a;transform:scaleX(0.955);transform-origin:right center;-webkit-text-stroke:0.3px #1a1a1a;">1.05</div>
<div class="t" style="left:621.90px;top:318px;font-size:7px;line-height:10px;font-weight:700;color:#fff;">Rate Impact per Customer</div>
<div class="r" style="left:621.70px;top:333.10px;width:90.83px;height:8.20px;background:#0a84f0;"></div>
<div class="t" style="right:1.70px;top:332px;font-size:8px;line-height:11px;font-weight:400;color:#1a1a1a;transform:scaleX(0.955);transform-origin:right center;-webkit-text-stroke:0.3px #1a1a1a;">$1.26</div>
<div class="r" style="left:621.70px;top:343.84px;width:90.83px;height:8.20px;background:#0a84f0;"></div>
<div class="t" style="right:1.70px;top:343px;font-size:8px;line-height:11px;font-weight:400;color:#1a1a1a;transform:scaleX(0.955);transform-origin:right center;-webkit-text-stroke:0.3px #1a1a1a;">$1.26</div>
<div class="r" style="left:621.70px;top:354.58px;width:96.60px;height:8.20px;background:#0a84f0;"></div>
<div class="t" style="right:1.70px;top:353px;font-size:8px;line-height:11px;font-weight:400;color:#1a1a1a;transform:scaleX(0.955);transform-origin:right center;-webkit-text-stroke:0.3px #1a1a1a;">$1.34</div>
<div class="r" style="left:621.70px;top:365.32px;width:84.34px;height:8.20px;background:#0a84f0;"></div>
<div class="t" style="right:1.70px;top:364px;font-size:8px;line-height:11px;font-weight:400;color:#1a1a1a;transform:scaleX(0.955);transform-origin:right center;-webkit-text-stroke:0.3px #1a1a1a;">$1.17</div>
<div class="r" style="left:621.70px;top:376.06px;width:90.83px;height:8.20px;background:#0a84f0;"></div>
<div class="t" style="right:1.70px;top:375px;font-size:8px;line-height:11px;font-weight:400;color:#1a1a1a;transform:scaleX(0.955);transform-origin:right center;-webkit-text-stroke:0.3px #1a1a1a;">$1.26</div>
<div class="r" style="left:621.70px;top:386.80px;width:88.67px;height:8.20px;background:#0a84f0;"></div>
<div class="t" style="right:1.70px;top:386px;font-size:8px;line-height:11px;font-weight:400;color:#1a1a1a;transform:scaleX(0.955);transform-origin:right center;-webkit-text-stroke:0.3px #1a1a1a;">$1.23</div>
<div class="r" style="left:621.70px;top:397.54px;width:90.83px;height:8.20px;background:#0a84f0;"></div>
<div class="t" style="right:1.70px;top:396px;font-size:8px;line-height:11px;font-weight:400;color:#1a1a1a;transform:scaleX(0.955);transform-origin:right center;-webkit-text-stroke:0.3px #1a1a1a;">$1.26</div>
<div class="r" style="left:621.70px;top:408.28px;width:89.39px;height:8.20px;background:#0a84f0;"></div>
<div class="t" style="right:1.70px;top:407px;font-size:8px;line-height:11px;font-weight:400;color:#1a1a1a;transform:scaleX(0.955);transform-origin:right center;-webkit-text-stroke:0.3px #1a1a1a;">$1.24</div>
<div class="r" style="left:621.70px;top:419.02px;width:88.67px;height:8.20px;background:#0a84f0;"></div>
<div class="t" style="right:1.70px;top:418px;font-size:8px;line-height:11px;font-weight:400;color:#1a1a1a;transform:scaleX(0.955);transform-origin:right center;-webkit-text-stroke:0.3px #1a1a1a;">$1.23</div>
</div></div></body></html>
